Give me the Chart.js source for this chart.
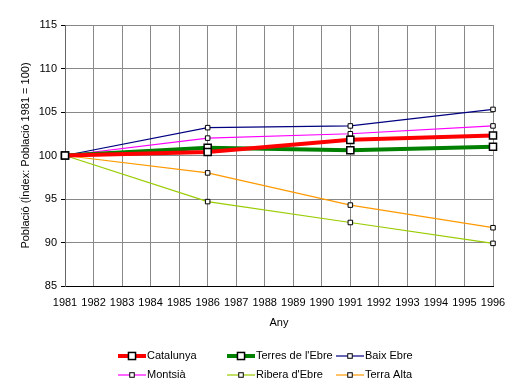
<!DOCTYPE html>
<html lang="ca">
<head>
<meta charset="UTF-8">
<title>Població</title>
<script src="https://cdn.jsdelivr.net/npm/chart.js"></script>
<style>
    html, body { margin: 0; padding: 0; background: #fff; }
    #wrap { width: 522px; height: 392px; }
</style>
</head>
<body>
<div id="wrap"><canvas id="chart" width="522" height="392"></canvas></div>
<script>
    // anys censals
    const years = [1981, 1986, 1991, 1996];
    const catalunya = [100, 100.4, 101.8, 102.3];
    const terresEbre = [100, 100.9, 100.6, 101.0];
    const baixEbre = [100, 103.2, 103.4, 105.3];
    const montsia = [100, 102.0, 102.5, 103.4];
    const riberaEbre = [100, 94.7, 92.3, 89.9];
    const terraAlta = [100, 98.0, 94.3, 91.7];

    const seriesNames = ["Catalunya", "Terres de l'Ebre", "Baix Ebre", "Montsià", "Ribera d'Ebre", "Terra Alta"];
    const seriesData = [catalunya, terresEbre, baixEbre, montsia, riberaEbre, terraAlta];
    const seriesColors = ["#ff0000", "#008000", "#000080", "#ff00ff", "#99cc00", "#ff9900"];
    const thick = [true, true, false, false, false, false];

    const FONT = "'Liberation Sans', Arial, sans-serif";

    const datasets = seriesNames.map((name, i) => ({
        label: name,
        data: years.map((y, j) => ({ x: y, y: seriesData[i][j] })),
        borderColor: seriesColors[i],
        borderWidth: thick[i] ? 4 : 1.2,
        pointStyle: "rect",
        pointRadius: thick[i] ? 5 : 3.2,
        pointBackgroundColor: "#fff",
        pointBorderColor: "#000",
        pointBorderWidth: thick[i] ? 1.5 : 1,
        tension: 0,
        clip: false
    }));

    // llegenda dibuixada a mà (2 files x 3 columnes)
    const legendPlugin = {
        id: "legendBox",
        afterDraw(chart) {
            const ctx = chart.ctx;
            const colsX = [147, 256, 365];
            const rowsY = [356, 375];
            ctx.save();
            ctx.font = "11px " + FONT;
            ctx.textBaseline = "middle";
            ctx.fillStyle = "#000";
            chart.data.datasets.forEach((ds, i) => {
                const tx = colsX[i % 3];
                const ty = rowsY[Math.floor(i / 3)];
                const x0 = tx - 29, x1 = tx - 1;
                ctx.strokeStyle = ds.borderColor;
                ctx.lineWidth = ds.borderWidth;
                ctx.beginPath();
                ctx.moveTo(x0, ty);
                ctx.lineTo(x1, ty);
                ctx.stroke();
                const s = ds.pointRadius * Math.SQRT2;
                ctx.fillStyle = "#fff";
                ctx.fillRect((x0 + x1) / 2 - s / 2, ty - s / 2, s, s);
                ctx.strokeStyle = "#000";
                ctx.lineWidth = ds.pointBorderWidth;
                ctx.strokeRect((x0 + x1) / 2 - s / 2, ty - s / 2, s, s);
                ctx.fillStyle = "#000";
                ctx.fillText(ds.label, tx, ty);
            });
            ctx.restore();
        }
    };

    new Chart(document.getElementById("chart"), {
        type: "line",
        data: { datasets: datasets },
        plugins: [legendPlugin],
        options: {
            responsive: false,
            animation: false,
            layout: { padding: { top: 25, right: 29, bottom: 62, left: 0 } },
            plugins: { legend: { display: false }, tooltip: { enabled: false } },
            scales: {
                x: {
                    type: "linear",
                    min: 1981,
                    max: 1996,
                    afterFit: s => { s.height = 44; },
                    ticks: {
                        stepSize: 1,
                        autoSkip: false,
                        maxRotation: 0,
                        color: "#000",
                        font: { family: FONT, size: 11 },
                        padding: 10,
                        callback: v => String(v)
                    },
                    grid: { color: "#888", lineWidth: 1, drawTicks: false },
                    border: { color: "#000" },
                    title: { display: true, text: "Any", color: "#000", font: { family: FONT, size: 11 }, padding: { top: 0, bottom: 0 } }
                },
                y: {
                    min: 85,
                    max: 115,
                    afterFit: s => { s.width = 65; },
                    ticks: {
                        stepSize: 5,
                        color: "#000",
                        font: { family: FONT, size: 11 },
                        padding: 4
                    },
                    grid: { color: "#888", lineWidth: 1, tickLength: 4, tickColor: "#000" },
                    border: { color: "#666" },
                    title: { display: true, text: "Població (Índex: Població 1981 = 100)", color: "#000", font: { family: FONT, size: 11 }, padding: { top: 19, bottom: 4 } }
                }
            }
        }
    });
</script>
</body>
</html>
